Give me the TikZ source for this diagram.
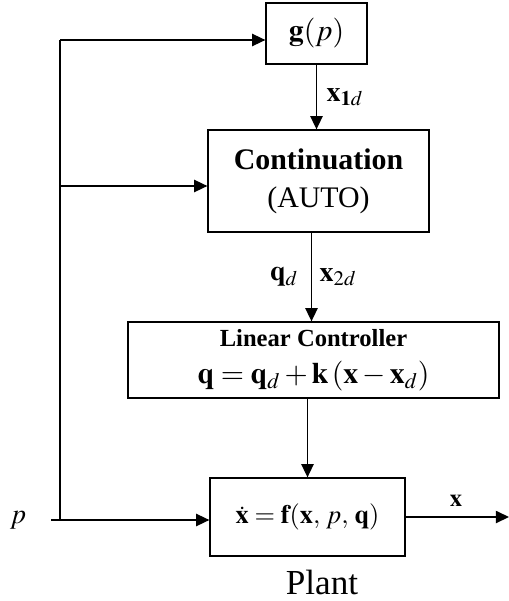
\documentclass[tikz,border=0pt]{standalone}
\usepackage{mathptmx}
\usepackage{fontspec}
\setmainfont{Liberation Serif}
\usetikzlibrary{arrows.meta}

\tikzset{
	blocco/.style={draw, line width=0.75pt, inner sep=0pt, align=center},
	freccia/.style={line width=0.75pt, -{Triangle[length=7.5pt, width=7pt]}},
	linea/.style={line width=0.75pt},
	etichetta/.style={font=\fontsize{16}{19}\selectfont}
}

\begin{document}
\begin{tikzpicture}[x=0.02cm, y=-0.02cm]
	\useasboundingbox (0, 0) rectangle (509, 601);
	
	% Blocchi
	\node[blocco, minimum width=2.02cm, minimum height=1.22cm, font=\fontsize{17}{20}\selectfont] (g) at (316.5, 33.5) {$\mathbf{g}(p)$};
	\node[blocco, minimum width=4.42cm, minimum height=2.04cm, font=\fontsize{17}{21.5}\selectfont] (cont) at (318.5, 181) {\textbf{Continuation}\\(AUTO)};
	\node[blocco, minimum width=7.42cm, minimum height=1.52cm, font=\fontsize{17}{20}\selectfont] (lin) at (313.5, 360) {{\fontsize{14}{16}\selectfont\textbf{Linear Controller}}\\[1pt]$\mathbf{q}=\mathbf{q}_{d}+\mathbf{k}\,(\mathbf{x}-\mathbf{x}_{d})$};
	\node[blocco, minimum width=3.9cm, minimum height=1.56cm, font=\fontsize{15}{18}\selectfont] (plant) at (307.5, 517) {$\dot{\mathbf{x}}=\mathbf{f}(\mathbf{x},\,p,\,\mathbf{q})$};
	\node[font=\fontsize{20}{24}\selectfont] (nome) at (322, 582) {Plant};
	
	% Ingresso p e diramazioni
	\node[etichetta] (p) at (18, 520) {$p$};
	\coordinate (inizio) at (51, 520);
	\coordinate (nodo) at (60, 520);
	\coordinate (alto) at (60, 40);
	\coordinate (medio) at (60, 186);
	\coordinate (fine) at (509, 517);
	\draw[linea] (nodo) -- (alto);
	\draw[freccia] (alto) -- (alto -| g.west);
	\draw[freccia] (medio) -- (medio -| cont.west);
	\draw[freccia] (inizio) -- (inizio -| plant.west);
	
	% Collegamenti verticali
	\draw[freccia] (g.south) -- (g.south |- cont.north) node[etichetta, midway, right=2pt] (x1) {$\mathbf{x}_{\mathbf{1}d}$};
	\draw[freccia] (cont.south) ++(-7, 0) coordinate (c1) -- (c1 |- lin.north);
	\node[etichetta] (qd) at (284, 277) {$\mathbf{q}_{d}$};
	\node[etichetta] (x2) at (338, 277) {$\mathbf{x}_{2d}$};
	\draw[freccia] (plant.north |- lin.south) -- (plant.north);
	
	% Uscita
	\draw[freccia] (plant.east |- fine) -- (fine);
	\node[font=\fontsize{14}{16}\selectfont] (x) at (456, 501) {$\mathbf{x}$};
\end{tikzpicture}
\end{document}
